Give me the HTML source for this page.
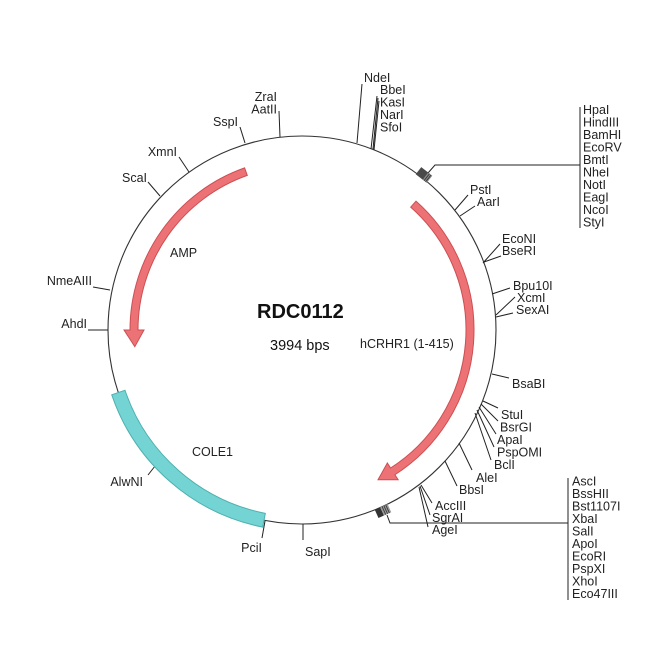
<!DOCTYPE html>
<html>
<head>
<meta charset="utf-8">
<style>
html,body{margin:0;padding:0;background:#fff;width:650px;height:650px;overflow:hidden}
svg{display:block}
</style>
</head>
<body>
<svg width="650" height="650" viewBox="0 0 650 650" xmlns="http://www.w3.org/2000/svg">
<rect width="650" height="650" fill="#fff"/>
<!-- backbone -->
<circle cx="302" cy="330" r="194" fill="none" stroke="#333" stroke-width="1.1"/>

<!-- tick lines -->
<g stroke="#222" stroke-width="1" fill="none">
  <path d="M357 143 L362 84"/>
  <path d="M371 149 L377 96 M373 149 L378 98 M374 150 L379 101"/>
  <path d="M280 137 L279 111"/>
  <path d="M245 143 L240 127"/>
  <path d="M189 172 L179 157"/>
  <path d="M160 196 L148 182"/>
  <path d="M110 290 L93 287"/>
  <path d="M108 330 L88 330"/>
  <path d="M159 461 L148 475"/>
  <path d="M265 521 L262 538"/>
  <path d="M303 524 L303 540"/>
  <path d="M455 210 L468 195"/>
  <path d="M460 216 L475 206"/>
  <path d="M483 263 L500 244 M484 262 L501 256"/>
  <path d="M492 294 L510 288"/>
  <path d="M496 315 L515 297 M496 317 L513 313"/>
  <path d="M492 374 L509 378"/>
  <path d="M483 401 L498 408 M481 404 L498 421 M479 407 L496 434 M477 410 L494 447 M475 413 L491 460"/>
  <path d="M459 443 L472 470"/>
  <path d="M445 461 L457 486"/>
  <path d="M421 485 L432 503 M420 486 L430 515 M419 487 L428 527"/>
  <path d="M428 173 L435 165 L580 165 M580 107 L580 228"/>
  <path d="M387 515 L390 523 L568 523 M568 478 L568 600"/>
</g>

<!-- cluster boxes -->
<g transform="translate(424,175) rotate(38)">
  <rect x="-7" y="-4.5" width="9" height="9" fill="#4a4a4a"/>
  <rect x="2" y="-4.5" width="5" height="9" fill="#888"/>
  <path d="M3.5 -4.5 V4.5 M5.5 -4.5 V4.5" stroke="#333" stroke-width="0.8"/>
</g>
<g transform="translate(383,511) rotate(-24.4)">
  <rect x="-7" y="-4.5" width="6" height="9" fill="#333"/>
  <rect x="-1" y="-4.5" width="8" height="9" fill="#999"/>
  <path d="M1 -4.5 V4.5 M3 -4.5 V4.5 M5 -4.5 V4.5" stroke="#333" stroke-width="0.8"/>
</g>

<!-- COLE1 band -->
<path d="M111.73 394.78 A201 201 0 0 0 262.62 527.1 L265.36 513.37 A187 187 0 0 1 124.99 390.27 Z" fill="#74d4d4" stroke="#4fb0b0" stroke-width="1"/>

<!-- AMP arrow -->
<path d="M244.6 167.9 A172 172 0 0 0 130 330 L124 330 L134.8 346.7 L144 330 L138 330 A164 164 0 0 1 247.3 175.4 Z" fill="#ec7276" stroke="#cc4f52" stroke-width="1"/>

<!-- hCRHR1 arrow -->
<path d="M415.97 201.17 A172 172 0 0 1 394.91 474.74 L398.16 479.79 L378 479.8 L387.35 462.96 L390.59 468 A164 164 0 0 0 410.67 207.16 Z" fill="#ec7276" stroke="#cc4f52" stroke-width="1"/>

<!-- center text -->
<g font-family="'Liberation Sans', Arial, sans-serif" fill="#111">
  <text x="257" y="318" font-size="20" font-weight="bold">RDC0112</text>
  <text x="270" y="350" font-size="14.5">3994 bps</text>
</g>

<!-- labels -->
<g font-family="'Liberation Sans', Arial, sans-serif" font-size="12.5" fill="#222">
  <text x="360" y="348">hCRHR1 (1-415)</text>
  <text x="170" y="257">AMP</text>
  <text x="192" y="456">COLE1</text>

  <text x="364" y="82">NdeI</text>
  <text x="380" y="94">BbeI</text>
  <text x="380" y="106.5">KasI</text>
  <text x="380" y="119">NarI</text>
  <text x="380" y="131.5">SfoI</text>

  <text x="277" y="101" text-anchor="end">ZraI</text>
  <text x="277" y="113.5" text-anchor="end">AatII</text>
  <text x="238" y="126" text-anchor="end">SspI</text>
  <text x="177" y="156" text-anchor="end">XmnI</text>
  <text x="147" y="182" text-anchor="end">ScaI</text>
  <text x="92" y="285" text-anchor="end">NmeAIII</text>
  <text x="87" y="328" text-anchor="end">AhdI</text>
  <text x="143" y="486" text-anchor="end">AlwNI</text>
  <text x="262" y="552" text-anchor="end">PciI</text>
  <text x="305" y="556">SapI</text>

  <text x="583" y="114">HpaI</text>
  <text x="583" y="126.5">HindIII</text>
  <text x="583" y="139">BamHI</text>
  <text x="583" y="151.5">EcoRV</text>
  <text x="583" y="164">BmtI</text>
  <text x="583" y="176.5">NheI</text>
  <text x="583" y="189">NotI</text>
  <text x="583" y="201.5">EagI</text>
  <text x="583" y="214">NcoI</text>
  <text x="583" y="226.5">StyI</text>

  <text x="470" y="194">PstI</text>
  <text x="477" y="206">AarI</text>
  <text x="502" y="243">EcoNI</text>
  <text x="502" y="255">BseRI</text>
  <text x="513" y="290">Bpu10I</text>
  <text x="517" y="302">XcmI</text>
  <text x="516" y="314">SexAI</text>
  <text x="512" y="388">BsaBI</text>

  <text x="501" y="419">StuI</text>
  <text x="500" y="431.5">BsrGI</text>
  <text x="497" y="444">ApaI</text>
  <text x="497" y="456.5">PspOMI</text>
  <text x="494" y="469">BclI</text>
  <text x="476" y="482">AleI</text>
  <text x="459" y="494">BbsI</text>
  <text x="435" y="510">AccIII</text>
  <text x="432" y="522">SgrAI</text>
  <text x="432" y="534">AgeI</text>

  <text x="572" y="485.5">AscI</text>
  <text x="572" y="498">BssHII</text>
  <text x="572" y="510.5">Bst1107I</text>
  <text x="572" y="523">XbaI</text>
  <text x="572" y="535.5">SalI</text>
  <text x="572" y="548">ApoI</text>
  <text x="572" y="560.5">EcoRI</text>
  <text x="572" y="573">PspXI</text>
  <text x="572" y="585.5">XhoI</text>
  <text x="572" y="598">Eco47III</text>
</g>
</svg>
</body>
</html>
